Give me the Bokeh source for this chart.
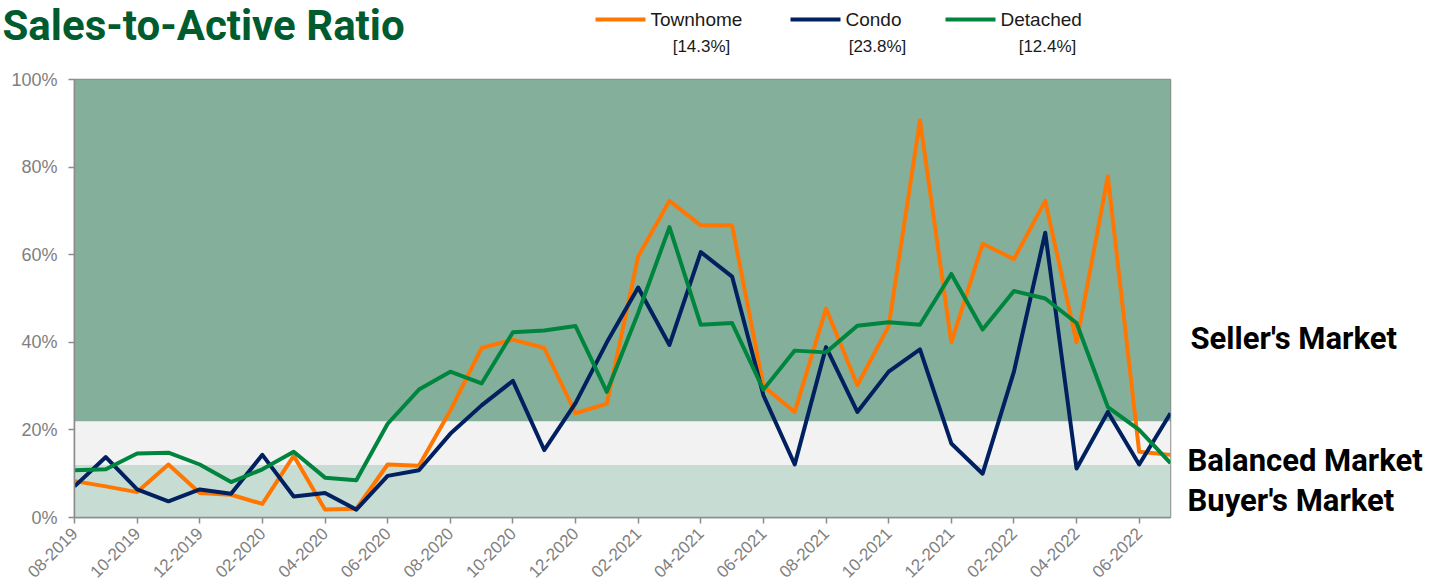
from math import pi
from bokeh.plotting import figure
from bokeh.layouts import column, row
from bokeh.models import FixedTicker
from bokeh.embed import file_html
from bokeh.resources import INLINE
from bokeh.core.properties import value

# ---------------- data ----------------
months = ["08-2019", "09-2019", "10-2019", "11-2019", "12-2019", "01-2020",
          "02-2020", "03-2020", "04-2020", "05-2020", "06-2020", "07-2020",
          "08-2020", "09-2020", "10-2020", "11-2020", "12-2020", "01-2021",
          "02-2021", "03-2021", "04-2021", "05-2021", "06-2021", "07-2021",
          "08-2021", "09-2021", "10-2021", "11-2021", "12-2021", "01-2022",
          "02-2022", "03-2022", "04-2022", "05-2022", "06-2022", "07-2022"]
townhome = [8.3, 7.1, 5.8, 12.1, 5.6, 5.2, 3.1, 14.1, 1.8, 2.0, 12.1, 11.8,
            24.4, 38.7, 40.6, 38.7, 23.8, 26.0, 59.6, 72.3, 66.7, 66.7, 30.0, 24.1,
            47.7, 30.2, 43.7, 90.7, 40.0, 62.5, 59.0, 72.3, 40.0, 77.9, 15.0, 14.3]
condo = [7.1, 13.8, 6.4, 3.7, 6.4, 5.4, 14.3, 4.8, 5.6, 1.8, 9.5, 10.8,
         19.1, 25.6, 31.2, 15.4, 26.1, 40.0, 52.5, 39.4, 60.6, 55.0, 27.9, 12.1,
         38.9, 24.1, 33.3, 38.4, 16.9, 10.0, 33.3, 65.0, 11.2, 24.1, 12.1, 23.8]
detached = [10.8, 11.0, 14.6, 14.8, 12.1, 8.1, 11.0, 15.0, 9.1, 8.5, 21.4, 29.2,
            33.3, 30.6, 42.3, 42.7, 43.7, 28.7, 46.7, 66.3, 44.0, 44.4, 29.2, 38.1,
            37.7, 43.8, 44.6, 44.0, 55.6, 42.9, 51.7, 50.0, 44.4, 25.2, 20.0, 12.4]
series_names = ["Townhome", "Condo", "Detached"]
latest_labels = ["[14.3%]", "[23.8%]", "[12.4%]"]
band_edges = [0, 12, 22, 100]
band_names = ["Buyer's Market", "Balanced Market", "Seller's Market"]
y_ticks = [0, 20, 40, 60, 80, 100]
title_text = "Sales-to-Active Ratio"

# ---------------- style ----------------
ORANGE = "#ff7700"
NAVY = "#002060"
GREEN = "#00853f"
SERIES_COLORS = [ORANGE, NAVY, GREEN]
BAND_COLORS = ["#c7ddd3", "#f2f2f2", "#84b09b"]
GRAY = "#8c8c8c"
TXT = "#808080"
FONT = "Liberation Sans"
BOLD_FONT = "Roboto"

PAGE_W, PAGE_H = 1437, 588
HEAD_H = 67
MAIN_W = 1172
RIGHT_W = PAGE_W - MAIN_W
BODY_H = PAGE_H - HEAD_H
FRAME_TOP, FRAME_BOTTOM = 79, 517   # page pixels of the plot frame
TOP_BORDER = FRAME_TOP - HEAD_H
BOTTOM_BORDER = PAGE_H - FRAME_BOTTOM


def blank(width, height, y_range):
    f = figure(width=width, height=height, x_range=(0, width),
               y_range=y_range, output_backend="svg",
               toolbar_location=None, min_border=0, title=None,
               x_axis_type=None, y_axis_type=None)
    f.outline_line_color = None
    f.grid.visible = False
    f.background_fill_color = "white"
    f.border_fill_color = "white"
    return f


# ---------------- header: title + legend ----------------
head = blank(PAGE_W, HEAD_H, (HEAD_H, 0))
head.text(x=[2], y=[25], text=[title_text], text_font=value(BOLD_FONT),
          text_font_style="bold", text_font_size="42px", text_color="#005c2e",
          text_align="left", text_baseline="middle")
leg_x = [595, 790, 945]
leg_y = 19
glyph_w = 50
head.segment(x0=leg_x, x1=[v + glyph_w for v in leg_x], y0=[leg_y] * 3,
             y1=[leg_y] * 3, line_color=SERIES_COLORS, line_width=4)
head.text(x=[v + glyph_w + 5 for v in leg_x], y=[leg_y] * 3, text=series_names,
          text_font=value(FONT), text_font_size="19px", text_color="#1a1a1a",
          text_align="left", text_baseline="middle")
head.text(x=[701, 877, 1047], y=[46] * 3, text=latest_labels,
          text_font=value(FONT), text_font_size="17px", text_color="#1a1a1a",
          text_align="center", text_baseline="middle")

# ---------------- main chart ----------------
x = list(range(len(months)))
xmax = len(months) - 1

p = figure(width=MAIN_W, height=BODY_H, x_range=(0, xmax), y_range=(0, 100),
           output_backend="svg", toolbar_location=None, title=None,
           min_border_left=74, min_border_right=2,
           min_border_top=TOP_BORDER, min_border_bottom=BOTTOM_BORDER)
p.background_fill_color = "white"
p.border_fill_color = "white"
p.outline_line_color = GRAY
p.outline_line_width = 1.5
p.grid.visible = False

p.quad(left=0, right=xmax, bottom=band_edges[:-1], top=band_edges[1:],
       fill_color=BAND_COLORS, line_color=None)

for vals, col in zip([townhome, condo, detached], SERIES_COLORS):
    p.line(x, vals, line_color=col, line_width=4, line_join="round")

p.xaxis.ticker = FixedTicker(ticks=list(range(0, len(months), 2)))
p.xaxis.major_label_overrides = {i: months[i] for i in range(0, len(months), 2)}
p.xaxis.major_label_orientation = pi / 4
p.yaxis.ticker = FixedTicker(ticks=y_ticks)
p.yaxis.major_label_overrides = {v: f"{v}%" for v in y_ticks}
for ax in (p.xaxis, p.yaxis):
    ax.axis_line_color = GRAY
    ax.axis_line_width = 1.5
    ax.major_tick_line_color = GRAY
    ax.major_tick_line_width = 1.5
    ax.major_tick_out = 6
    ax.major_tick_in = 0
    ax.minor_tick_line_color = None
    ax.major_label_text_color = TXT
    ax.major_label_text_font = FONT
p.yaxis.major_label_text_font_size = "18px"
p.yaxis.major_label_standoff = 11
p.xaxis.major_label_text_font_size = "17px"
p.xaxis.major_label_standoff = 7

# ---------------- right side: market labels ----------------
# the side plot's frame is aligned with the main frame, so its y range is
# expressed in page pixels of that frame
side = blank(RIGHT_W, BODY_H, (FRAME_BOTTOM, FRAME_TOP))
mk_x = [15, 15, 18]
mk_y = [500, 460, 338]
side.text(x=mk_x, y=mk_y, text=band_names, text_font=value(BOLD_FONT),
          text_font_style="bold", text_font_size="31px", text_color="black",
          text_align="left", text_baseline="middle")

layout = column(head, row(p, side, spacing=0), spacing=0)
open("out.html", "w").write(file_html(layout, INLINE))
